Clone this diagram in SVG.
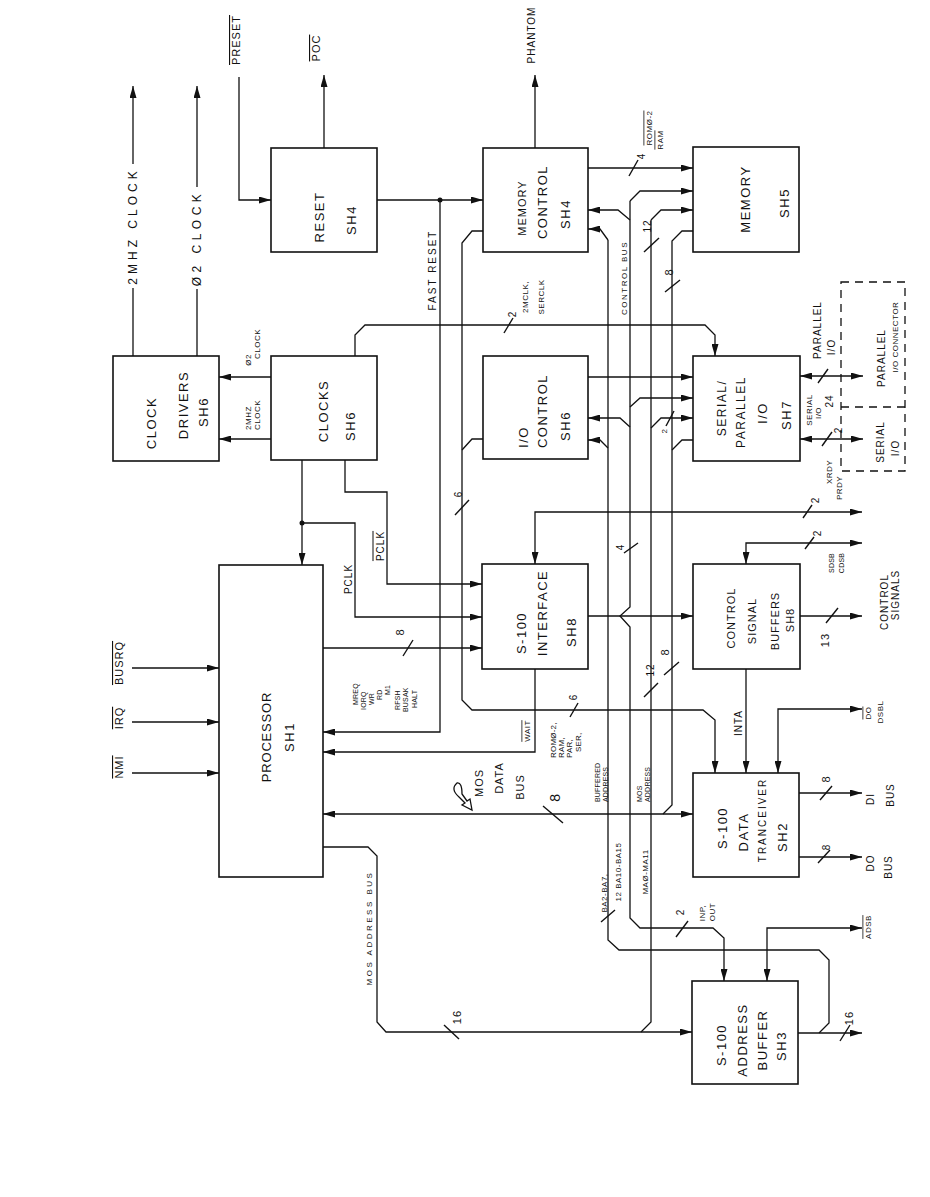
<svg xmlns="http://www.w3.org/2000/svg" width="930" height="1197" viewBox="0 0 930 1197">
<defs>
<style>
.b{fill:#fff;stroke:#111;stroke-width:1.6}
.c{fill:none;stroke:#111;stroke-width:1.3}
.k{fill:none;stroke:#111;stroke-width:1.4}
.t{font-family:"Liberation Sans",Arial,sans-serif;font-size:13px;letter-spacing:1.5px;text-anchor:middle;dominant-baseline:central;fill:#111}
.l{font-size:11px;letter-spacing:1px}
.m{font-size:10px;letter-spacing:1px}
.s{font-size:8px;letter-spacing:0.5px}
.x{font-size:7px;letter-spacing:0.2px;text-anchor:start}
.o{text-decoration:overline}
.d{fill:#111}
</style>
<marker id="a" viewBox="0 0 12 7" refX="12" refY="3.5" markerWidth="12" markerHeight="7" markerUnits="userSpaceOnUse" orient="auto-start-reverse"><path d="M0,0 L12,3.5 L0,7 Z" fill="#111"/></marker>
</defs>
<rect width="930" height="1197" fill="#fff"/>

<g id="connectors">
<path class="c" d="M133,356 V288"/>
<path class="c" d="M133,164 V86" marker-end="url(#a)"/>
<path class="c" d="M197,356 V289"/>
<path class="c" d="M197,187 V86" marker-end="url(#a)"/>
<path class="c" d="M239,77 V200 H271" marker-end="url(#a)"/>
<path class="c" d="M324,148 V75" marker-end="url(#a)"/>
<path class="c" d="M535,148 V75" marker-end="url(#a)"/>
<path class="c" d="M377,200 H483" marker-end="url(#a)"/>
<circle class="d" cx="440" cy="200" r="2.5"/>
<path class="c" d="M440,200 V732 H323" marker-end="url(#a)"/>
<path class="c" d="M271,377 H219" marker-end="url(#a)"/>
<path class="c" d="M271,439 H219" marker-end="url(#a)"/>
<path class="c" d="M355,356 V335 L365,325 H705 L715,335 V356" marker-end="url(#a)"/>
<path class="c" d="M302,460 V565" marker-end="url(#a)"/>
<circle class="d" cx="302" cy="523" r="2.5"/>
<path class="c" d="M302,523 H355 V617 H482" marker-end="url(#a)"/>
<path class="c" d="M345,460 V492 H387 V584 H482" marker-end="url(#a)"/>
<path class="c" d="M323,648 H482" marker-end="url(#a)"/>
<path class="c" d="M535,669 V752 H323" marker-end="url(#a)"/>
<path class="c" d="M483,231 H472 L462,243 V700 L472,710 H703 L715,720 V773" marker-end="url(#a)"/>
<path class="c" d="M483,439 H472 L462,450"/>
<path class="c" d="M588,168 H693" marker-end="url(#a)"/>
<path class="c" d="M588,377 H693" marker-end="url(#a)"/>
<path class="c" d="M630,201 V607 L620,616 L630,627 V918 L640,928 H713 L724,938 V981" marker-end="url(#a)"/>
<path class="c" d="M630,201 L640,191 H693" marker-end="url(#a)"/>
<path class="c" d="M630,220 L618,210 H588" marker-end="url(#a)"/>
<path class="c" d="M630,407 L640,398 H693" marker-end="url(#a)"/>
<path class="c" d="M630,427 L620,418 H588" marker-end="url(#a)"/>
<path class="c" d="M588,616 H693" marker-end="url(#a)"/>
<path class="c" d="M608,240 V940 L619,950 H819 L829,960 V1023 L819,1033"/>
<path class="c" d="M608,240 L600,229 H588" marker-end="url(#a)"/>
<path class="c" d="M608,448 L600,440 H588" marker-end="url(#a)"/>
<path class="c" d="M651,220 V1022 L641,1032"/>
<path class="c" d="M651,220 L661,210 H693" marker-end="url(#a)"/>
<path class="c" d="M651,428 L661,418 H693" marker-end="url(#a)"/>
<path class="c" d="M693,231 H682 L672,241 V805 L663,814"/>
<path class="c" d="M693,440 H682 L672,450"/>
<path class="c" d="M323,814 H693" marker-start="url(#a)" marker-end="url(#a)"/>
<path class="c" d="M323,847 H368 L377,856 V1022 L386,1032 H692" marker-end="url(#a)"/>
<path class="c" d="M798,1033 H862" marker-end="url(#a)"/>
<path class="c" d="M862,928 H767 V981" marker-start="url(#a)" marker-end="url(#a)"/>
<path class="c" d="M862,512 H535 V564" marker-start="url(#a)" marker-end="url(#a)"/>
<path class="c" d="M862,543 H746 V564" marker-start="url(#a)" marker-end="url(#a)"/>
<path class="c" d="M800,616 H862" marker-end="url(#a)"/>
<path class="c" d="M746,669 V773" marker-end="url(#a)"/>
<path class="c" d="M862,709 H778 V773" marker-start="url(#a)" marker-end="url(#a)"/>
<path class="c" d="M799,793 H862" marker-end="url(#a)"/>
<path class="c" d="M799,857 H862" marker-end="url(#a)"/>
<path class="c" d="M800,376 H863" marker-start="url(#a)" marker-end="url(#a)"/>
<path class="c" d="M800,439 H863" marker-start="url(#a)" marker-end="url(#a)"/>
<path class="c" d="M132,668 H219" marker-end="url(#a)"/>
<path class="c" d="M132,722 H219" marker-end="url(#a)"/>
<path class="c" d="M132,773 H219" marker-end="url(#a)"/>
<path class="c" d="M457,783 Q450,789 459,797 L465,803 L462,805 L472,810 L470,799 L467,801 L462,794 Q462,782 457,783 Z" stroke-width="1.1"/>
<!-- bus ticks -->
<path class="k" d="M504,333 L513,318"/>
<path class="k" d="M455,515 L469,500"/>
<path class="k" d="M403,656 L413,640"/>
<path class="k" d="M570,717 L578,703"/>
<path class="k" d="M543,806 L563,823"/>
<path class="k" d="M629,176 L638,160"/>
<path class="k" d="M644,252 L659,238"/>
<path class="k" d="M665,292 L680,280"/>
<path class="k" d="M666,426 L674,411"/>
<path class="k" d="M624,553 L638,543"/>
<path class="k" d="M644,697 L658,683"/>
<path class="k" d="M664,675 L679,662"/>
<path class="k" d="M676,937 L688,921"/>
<path class="k" d="M601,922 L615,910"/>
<path class="k" d="M444,1025 L459,1039"/>
<path class="k" d="M840,1041 L850,1025"/>
<path class="k" d="M818,383 L828,369"/>
<path class="k" d="M822,446 L832,432"/>
<path class="k" d="M803,518 L812,505"/>
<path class="k" d="M805,549 L814,537"/>
<path class="k" d="M826,623 L838,608"/>
<path class="k" d="M820,800 L832,786"/>
<path class="k" d="M818,863 L830,850"/>
</g>

<g id="labels">
<text class="t" style="font-size:12px;letter-spacing:4px" transform="translate(133 226) rotate(-90)">2MHZ CLOCK</text>
<text class="t" style="font-size:12px;letter-spacing:4.5px" transform="translate(197 238) rotate(-90)">Ø2 CLOCK</text>
<text class="t l o" transform="translate(236 40) rotate(-90)">PRESET</text>
<text class="t l o" transform="translate(316 48) rotate(-90)">POC</text>
<text class="t m" transform="translate(531 35) rotate(-90)">PHANTOM</text>
<text class="t s" transform="translate(248 360) rotate(-90)">Ø2</text>
<text class="t s" transform="translate(257 344) rotate(-90)">CLOCK</text>
<text class="t s" transform="translate(248 418) rotate(-90)">2MHZ</text>
<text class="t s" transform="translate(257 415) rotate(-90)">CLOCK</text>
<text class="t m" transform="translate(348 579) rotate(-90)">PCLK</text>
<text class="t m o" transform="translate(380 546) rotate(-90)">PCLK</text>
<text class="t m" style="letter-spacing:2px" transform="translate(432 270) rotate(-90)">FAST RESET</text>
<text class="t m" transform="translate(512 314) rotate(-90)">2</text>
<text class="t s" transform="translate(525 297) rotate(-90)">2MCLK,</text>
<text class="t s" transform="translate(541 297) rotate(-90)">SERCLK</text>
<text class="t s" style="letter-spacing:1.5px" transform="translate(624 278) rotate(-90)">CONTROL BUS</text>
<text class="t m" transform="translate(641 156) rotate(-90)">4</text>
<text class="t s o" transform="translate(649 128) rotate(-90)">ROMØ-2</text>
<text class="t s o" transform="translate(660 140) rotate(-90)">RAM</text>
<text class="t m" transform="translate(647 226) rotate(-90)">12</text>
<text class="t l" transform="translate(669 272) rotate(-90)">8</text>
<text class="t s" transform="translate(664 431) rotate(-90)">2</text>
<text class="t m" transform="translate(458 494) rotate(-90)">6</text>
<text class="t l" transform="translate(400 632) rotate(-90)">8</text>
<text class="t x" transform="translate(355 705) rotate(-90)">MREQ</text>
<text class="t x" transform="translate(363 710) rotate(-90)">IORQ</text>
<text class="t x" transform="translate(371 705) rotate(-90)">WR</text>
<text class="t x" transform="translate(379 700) rotate(-90)">RD</text>
<text class="t x" transform="translate(387 695) rotate(-90)">M1</text>
<text class="t x" transform="translate(397 710) rotate(-90)">RFSH</text>
<text class="t x" transform="translate(405 712) rotate(-90)">BUSAK</text>
<text class="t x" transform="translate(414 708) rotate(-90)">HALT</text>
<text class="t s o" transform="translate(527 731) rotate(-90)">WAIT</text>
<text class="t x" style="font-size:8px" transform="translate(553 758) rotate(-90)">ROMØ-2,</text>
<text class="t x" style="font-size:8px" transform="translate(561 758) rotate(-90)">RAM,</text>
<text class="t x" style="font-size:8px" transform="translate(569 758) rotate(-90)">PAR,</text>
<text class="t x" style="font-size:8px" transform="translate(578 752) rotate(-90)">SER,</text>
<text class="t m" transform="translate(573 697) rotate(-90)">6</text>
<text class="t m" transform="translate(620 547) rotate(-90)">4</text>
<text class="t m" transform="translate(650 670) rotate(-90)">12</text>
<text class="t l" transform="translate(665 652) rotate(-90)">8</text>
<text class="t l" transform="translate(479 783) rotate(-90)">MOS</text>
<text class="t l" transform="translate(499 778) rotate(-90)">DATA</text>
<text class="t l" transform="translate(520 787) rotate(-90)">BUS</text>
<text class="t" style="font-size:14px" transform="translate(555 797) rotate(-90)">8</text>
<text class="t x" transform="translate(597 802) rotate(-90)">BUFFERED</text>
<text class="t x" transform="translate(605 802) rotate(-90)">ADDRESS</text>
<text class="t x" transform="translate(639 802) rotate(-90)">MOS</text>
<text class="t x" transform="translate(647 802) rotate(-90)">ADDRESS</text>
<text class="t s" transform="translate(604 893) rotate(-90)">BA2-BA7,</text>
<text class="t s" transform="translate(618 872) rotate(-90)">12 BA10-BA15</text>
<text class="t s" transform="translate(645 872) rotate(-90)">MAØ-MA11</text>
<text class="t m" transform="translate(680 912) rotate(-90)">2</text>
<text class="t s" transform="translate(702 913) rotate(-90)">INP,</text>
<text class="t s" transform="translate(712 912) rotate(-90)">OUT</text>
<text class="t s" style="letter-spacing:2.5px" transform="translate(369 928) rotate(-90)">MOS ADDRESS BUS</text>
<text class="t l" transform="translate(457 1017) rotate(-90)">16</text>
<text class="t l" transform="translate(849 1018) rotate(-90)">16</text>
<text class="t l o" transform="translate(119 663) rotate(-90)">BUSRQ</text>
<text class="t l o" transform="translate(119 718) rotate(-90)">IRQ</text>
<text class="t l o" transform="translate(119 767) rotate(-90)">NMI</text>
<text class="t m" transform="translate(817 330) rotate(-90)">PARALLEL</text>
<text class="t m" transform="translate(831 347) rotate(-90)">I/O</text>
<text class="t s" transform="translate(809 410) rotate(-90)">SERIAL</text>
<text class="t s" transform="translate(818 413) rotate(-90)">I/O</text>
<text class="t m" transform="translate(829 401) rotate(-90)">24</text>
<text class="t m" transform="translate(838 430) rotate(-90)">2</text>
<text class="t s" transform="translate(829 472) rotate(-90)">XRDY</text>
<text class="t s" transform="translate(839 488) rotate(-90)">PRDY</text>
<text class="t m" transform="translate(815 500) rotate(-90)">2</text>
<text class="t m" transform="translate(817 533) rotate(-90)">2</text>
<text class="t x" style="text-anchor:middle" transform="translate(831 563) rotate(-90)">SDSB</text>
<text class="t x" style="text-anchor:middle" transform="translate(841 563) rotate(-90)">CDSB</text>
<text class="t l" transform="translate(825 640) rotate(-90)">13</text>
<text class="t m" transform="translate(884 602) rotate(-90)">CONTROL</text>
<text class="t m" transform="translate(895 595) rotate(-90)">SIGNALS</text>
<text class="t m" transform="translate(738 723) rotate(-90)">INTA</text>
<text class="t s o" transform="translate(868 713) rotate(-90)">DO</text>
<text class="t s" transform="translate(880 712) rotate(-90)">DSBL</text>
<text class="t l" transform="translate(826 779) rotate(-90)">8</text>
<text class="t m" transform="translate(870 799) rotate(-90)">DI</text>
<text class="t m" transform="translate(890 795) rotate(-90)">BUS</text>
<text class="t m" transform="translate(826 847) rotate(-90)">8</text>
<text class="t m" transform="translate(870 863) rotate(-90)">DO</text>
<text class="t m" transform="translate(888 867) rotate(-90)">BUS</text>
<text class="t s o" transform="translate(868 927) rotate(-90)">ADSB</text>
</g>

<g id="clock-drivers"><rect class="b" x="113" y="356" width="106" height="105"/>
<text class="t" transform="translate(151 423) rotate(-90)">CLOCK</text>
<text class="t" transform="translate(183 405) rotate(-90)">DRIVERS</text>
<text class="t" transform="translate(203 412) rotate(-90)">SH6</text></g>

<g id="clocks"><rect class="b" x="271" y="356" width="106" height="104"/>
<text class="t" transform="translate(323 411) rotate(-90)">CLOCKS</text>
<text class="t" transform="translate(350 426) rotate(-90)">SH6</text></g>

<g id="reset"><rect class="b" x="271" y="148" width="106" height="104"/>
<text class="t" transform="translate(319 217) rotate(-90)">RESET</text>
<text class="t" transform="translate(351 220) rotate(-90)">SH4</text></g>

<g id="memory-control"><rect class="b" x="483" y="148" width="105" height="104"/>
<text class="t l" transform="translate(522 208) rotate(-90)">MEMORY</text>
<text class="t" transform="translate(542 202) rotate(-90)">CONTROL</text>
<text class="t" transform="translate(565 214) rotate(-90)">SH4</text></g>

<g id="memory"><rect class="b" x="693" y="147" width="106" height="105"/>
<text class="t" transform="translate(745 199) rotate(-90)">MEMORY</text>
<text class="t" transform="translate(784 203) rotate(-90)">SH5</text></g>

<g id="io-control"><rect class="b" x="483" y="356" width="105" height="103"/>
<text class="t" transform="translate(523 437) rotate(-90)">I/O</text>
<text class="t" transform="translate(542 411) rotate(-90)">CONTROL</text>
<text class="t" transform="translate(565 426) rotate(-90)">SH6</text></g>

<g id="serial-parallel-io"><rect class="b" x="693" y="356" width="107" height="105"/>
<text class="t" style="font-size:12px" transform="translate(722 408) rotate(-90)">SERIAL/</text>
<text class="t" style="font-size:12px" transform="translate(741 412) rotate(-90)">PARALLEL</text>
<text class="t" transform="translate(762 413) rotate(-90)">I/O</text>
<text class="t" transform="translate(786 415) rotate(-90)">SH7</text></g>

<g id="connector-box">
<rect x="841" y="282" width="64" height="189" fill="none" stroke="#111" stroke-width="1.3" stroke-dasharray="8 6"/>
<path d="M841,407 H905" fill="none" stroke="#111" stroke-width="1.3" stroke-dasharray="8 6"/>
<text class="t m" transform="translate(881 358) rotate(-90)">PARALLEL</text>
<text class="t s" transform="translate(895 337) rotate(-90)">I/O CONNECTOR</text>
<text class="t m" transform="translate(880 442) rotate(-90)">SERIAL</text>
<text class="t m" transform="translate(895 448) rotate(-90)">I/O</text></g>

<g id="processor"><rect class="b" x="219" y="565" width="104" height="312"/>
<text class="t" style="letter-spacing:0.8px" transform="translate(266 737) rotate(-90)">PROCESSOR</text>
<text class="t" transform="translate(289 737) rotate(-90)">SH1</text></g>

<g id="s100-interface"><rect class="b" x="482" y="564" width="106" height="105"/>
<text class="t" transform="translate(521 633) rotate(-90)">S-100</text>
<text class="t" transform="translate(542 613) rotate(-90)">INTERFACE</text>
<text class="t" transform="translate(571 632) rotate(-90)">SH8</text></g>

<g id="control-signal-buffers"><rect class="b" x="693" y="564" width="107" height="105"/>
<text class="t l" transform="translate(731 618) rotate(-90)">CONTROL</text>
<text class="t l" transform="translate(752 621) rotate(-90)">SIGNAL</text>
<text class="t l" transform="translate(775 621) rotate(-90)">BUFFERS</text>
<text class="t l" transform="translate(790 620) rotate(-90)">SH8</text></g>

<g id="s100-data-tranceiver"><rect class="b" x="693" y="773" width="106" height="104"/>
<text class="t" transform="translate(722 828) rotate(-90)">S-100</text>
<text class="t" transform="translate(743 832) rotate(-90)">DATA</text>
<text class="t m" style="letter-spacing:2px" transform="translate(762 820) rotate(-90)">TRANCEIVER</text>
<text class="t" transform="translate(782 837) rotate(-90)">SH2</text></g>

<g id="s100-address-buffer"><rect class="b" x="692" y="981" width="106" height="103"/>
<text class="t" transform="translate(721 1045) rotate(-90)">S-100</text>
<text class="t" transform="translate(742 1040) rotate(-90)">ADDRESS</text>
<text class="t" transform="translate(762 1040) rotate(-90)">BUFFER</text>
<text class="t" transform="translate(781 1046) rotate(-90)">SH3</text></g>
</svg>
